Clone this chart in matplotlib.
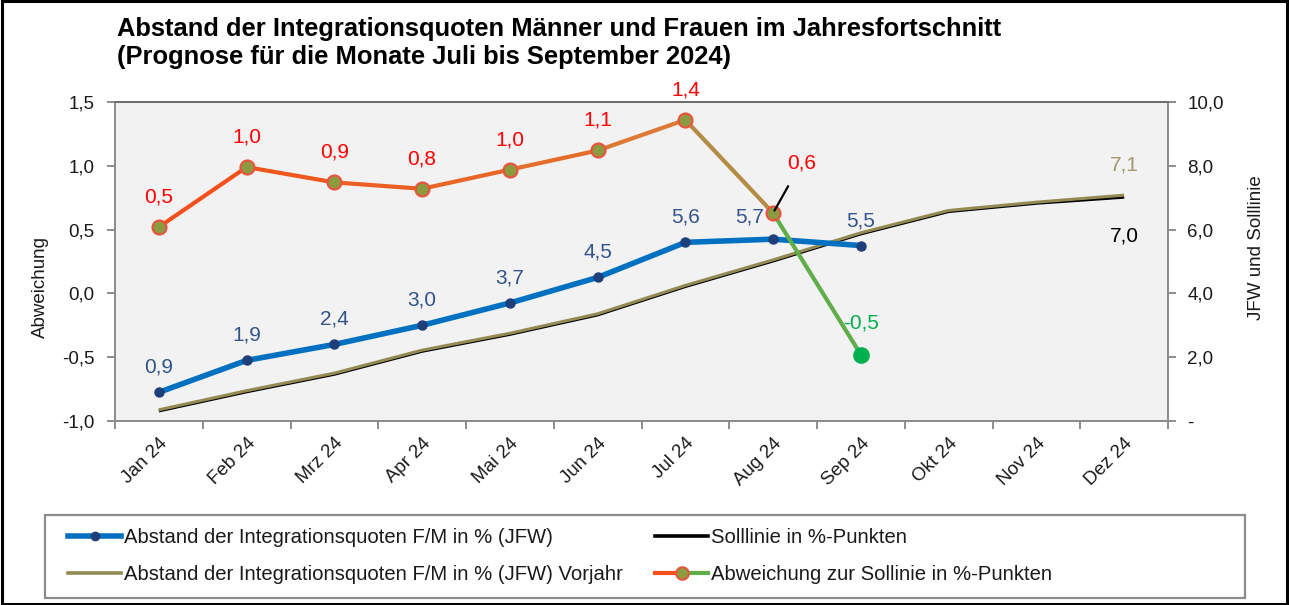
import matplotlib
matplotlib.use("Agg")
import matplotlib.pyplot as plt
from matplotlib.patches import Rectangle
from matplotlib.lines import Line2D
from matplotlib.legend_handler import HandlerBase
from matplotlib.ticker import FixedLocator, FixedFormatter

plt.rcParams['font.family'] = ['Liberation Sans', 'DejaVu Sans']

# ---------------- data ----------------
months = ["Jan 24", "Feb 24", "Mrz 24", "Apr 24", "Mai 24", "Jun 24",
          "Jul 24", "Aug 24", "Sep 24", "Okt 24", "Nov 24", "Dez 24"]
jfw = [0.9, 1.9, 2.4, 3.0, 3.7, 4.5, 5.6, 5.7, 5.5]
jfw_labels = ["0,9", "1,9", "2,4", "3,0", "3,7", "4,5", "5,6", "5,7", "5,5"]
vorjahr = [0.35, 0.95, 1.5, 2.22, 2.75, 3.36, 4.25, 5.05, 5.9, 6.6, 6.86, 7.08]
soll = [0.32, 0.92, 1.47, 2.19, 2.72, 3.33, 4.22, 5.02, 5.87, 6.57, 6.83, 7.02]
abweichung = [0.52, 0.99, 0.87, 0.82, 0.97, 1.12, 1.36, 0.63, -0.48]
abw_labels = ["0,5", "1,0", "0,9", "0,8", "1,0", "1,1", "1,4", "0,6", "-0,5"]
left_ticks = [-1.0, -0.5, 0.0, 0.5, 1.0, 1.5]
left_ticklabels = ["-1,0", "-0,5", "0,0", "0,5", "1,0", "1,5"]
right_ticks = [0, 2, 4, 6, 8, 10]
right_ticklabels = ["-", "2,0", "4,0", "6,0", "8,0", "10,0"]

# ---------------- style ----------------
W, H = 1289, 605
BLUE = "#0070c0"
NAVY = "#1f3f7a"
OLIVE = "#948a54"
GREEN = "#00b050"
RED = "#ff0000"
seg_colors = ["#f4501e", "#f0571f", "#ec5f24", "#e86628", "#e46d2c", "#dd7a35",
              "#b48c45", "#5fae4a"]
TXT = "#1a1a1a"

fig = plt.figure(figsize=(W / 100, H / 100), dpi=100)
fig.patches.append(Rectangle((0.0015, 0.002), 0.997, 0.996, transform=fig.transFigure,
                             fill=False, edgecolor="black", linewidth=2.2))

ax = fig.add_axes([115 / W, 1 - 421 / H, (1168 - 115) / W, (421 - 102) / H])
ax2 = ax.twinx()
ax.set_zorder(2)
ax2.set_zorder(1)
ax.patch.set_visible(False)
ax2.patch.set_visible(True)
ax2.patch.set_facecolor("#f2f2f2")

x_all = list(range(len(months)))
x_jfw = x_all[:len(jfw)]
x_abw = x_all[:len(abweichung)]

# right-axis series
ax2.plot(x_all, soll, color="black", lw=2.4, zorder=2, solid_capstyle="butt")
ax2.plot(x_all, vorjahr, color=OLIVE, lw=2.2, zorder=3, solid_capstyle="butt")
ax2.plot(x_jfw, jfw, color=BLUE, lw=4.0, zorder=4, marker="o", markersize=6.5,
         markerfacecolor=NAVY, markeredgecolor=NAVY)

# left-axis series (segment colours)
for i in range(len(abweichung) - 1):
    ax.plot(x_abw[i:i + 2], abweichung[i:i + 2], color=seg_colors[i], lw=3.0,
            zorder=3, solid_capstyle="round")
ax.plot(x_abw[:-1], abweichung[:-1], linestyle="none", marker="o", markersize=10,
        markerfacecolor="#8c9a40", markeredgecolor="#e8553f", markeredgewidth=1.6, zorder=4)
ax.plot(x_abw[-1:], abweichung[-1:], linestyle="none", marker="o", markersize=11,
        markerfacecolor=GREEN, markeredgecolor=GREEN, zorder=4)

# axes limits / ticks
ax.set_xlim(-0.5, len(months) - 0.5)
ax.set_ylim(-1.0, 1.5)
ax2.set_ylim(0, 10)
ax.yaxis.set_major_locator(FixedLocator(left_ticks))
ax.yaxis.set_major_formatter(FixedFormatter(left_ticklabels))
ax2.yaxis.set_major_locator(FixedLocator(right_ticks))
ax2.yaxis.set_major_formatter(FixedFormatter(right_ticklabels))
ax.set_xticks([i - 0.5 for i in range(len(months) + 1)])
ax.set_xticklabels([])
ax.set_xticks(x_all, minor=True)
ax.set_xticklabels(months, minor=True, rotation=45, ha="right", rotation_mode="anchor",
                   fontsize=13.5, color=TXT)
ax.tick_params(axis="x", which="minor", length=0, pad=10)
ax.tick_params(axis="x", which="major", length=6, width=1.4, color="#8c8c8c")
ax.tick_params(axis="y", length=6, width=1.4, color="#8c8c8c", labelsize=13.5,
               labelcolor=TXT, pad=9)
ax2.tick_params(axis="y", length=6, width=1.4, color="#8c8c8c", labelsize=13.5,
                labelcolor=TXT, pad=8)

for a in (ax, ax2):
    for s in a.spines.values():
        s.set_color("#8c8c8c")
        s.set_linewidth(1.4)
ax.spines["top"].set_color("#6e6e6e")

ax.set_ylabel("Abweichung", fontsize=13.5, color=TXT)
ax2.set_ylabel("JFW und Solllinie", fontsize=13.5, color=TXT)
ax.yaxis.set_label_coords(-0.063, 0.42)
ax2.yaxis.set_label_coords(1.076, 0.545)

# data labels
LBL = 15
for xi, yi, lab in zip(x_jfw, jfw, jfw_labels):
    dx, dy = (0, 25)
    if lab == "5,7":
        dx, dy = (-24, 22)
    ax2.annotate(lab, (xi, yi), xytext=(dx, dy), textcoords="offset pixels",
                 ha="center", va="center", fontsize=LBL, color="#33548a", zorder=6)

for xi, yi, lab in zip(x_abw, abweichung, abw_labels):
    if lab == "0,6" and xi == 7:
        ax.annotate(lab, (xi, yi), xytext=(28, 50), textcoords="offset pixels",
                    ha="center", va="center", fontsize=LBL, color=RED,
                    arrowprops=dict(arrowstyle="-", color="black", lw=1.6,
                                    shrinkA=9, shrinkB=2), zorder=6)
    elif xi == len(abweichung) - 1:
        ax.annotate(lab, (xi, yi), xytext=(0, 32), textcoords="offset pixels",
                    ha="center", va="center", fontsize=LBL, color=GREEN, zorder=6)
    else:
        ax.annotate(lab, (xi, yi), xytext=(0, 30), textcoords="offset pixels",
                    ha="center", va="center", fontsize=LBL, color=RED, zorder=6)

ax2.annotate("7,1", (x_all[-1], vorjahr[-1]), xytext=(0, 30), textcoords="offset pixels",
             ha="center", va="center", fontsize=LBL, color="#a09a6a")
ax2.annotate("7,0", (x_all[-1], soll[-1]), xytext=(0, -39), textcoords="offset pixels",
             ha="center", va="center", fontsize=LBL, color="black")

# title
fig.text(117 / W, 1 - 17 / H,
         "Abstand der Integrationsquoten Männer und Frauen im Jahresfortschnitt\n"
         "(Prognose für die Monate Juli bis September 2024)",
         ha="left", va="top", fontsize=18.4, fontweight="bold", linespacing=1.2)


# legend
class GradHandler(HandlerBase):
    def create_artists(self, legend, orig_handle, xdescent, ydescent, width, height,
                       fontsize, trans):
        y = height / 2 - ydescent
        x0, x1 = -xdescent, -xdescent + width
        xm = (x0 + x1) / 2
        l1 = Line2D([x0, xm], [y, y], color="#f4501e", lw=3.0, transform=trans)
        l2 = Line2D([xm, x1], [y, y], color="#5fae4a", lw=3.0, transform=trans)
        m = Line2D([xm], [y], marker="o", markersize=9, markerfacecolor="#8c9a40",
                   markeredgecolor="#e8553f", markeredgewidth=1.5, transform=trans)
        return [l1, l2, m]


h_jfw = Line2D([], [], color=BLUE, lw=4.0, marker="o", markersize=6,
               markerfacecolor=NAVY, markeredgecolor=NAVY)
h_vj = Line2D([], [], color=OLIVE, lw=2.6)
h_soll = Line2D([], [], color="black", lw=2.6)
h_abw = object()
handles = [h_jfw, h_vj, h_soll, h_abw]
labels = ["Abstand der Integrationsquoten F/M in % (JFW)",
          "Abstand der Integrationsquoten F/M in % (JFW) Vorjahr",
          "Solllinie in %-Punkten",
          "Abweichung zur Sollinie in %-Punkten"]
leg = fig.legend(handles, labels, ncol=2, loc="center left",
                 bbox_to_anchor=(58 / W, 1 - 556 / H), frameon=False, fontsize=14.6,
                 handlelength=2.6, handletextpad=0.15, columnspacing=1.6,
                 labelspacing=0.9, borderpad=0, handler_map={h_abw: GradHandler()})
for t in leg.get_texts():
    t.set_color(TXT)
fig.patches.append(Rectangle((45 / W, 1 - 598 / H), 1200 / W, 83 / H,
                             transform=fig.transFigure, fill=False,
                             edgecolor="#8c8c8c", linewidth=1.6))

fig.savefig("out.png", dpi=100)
